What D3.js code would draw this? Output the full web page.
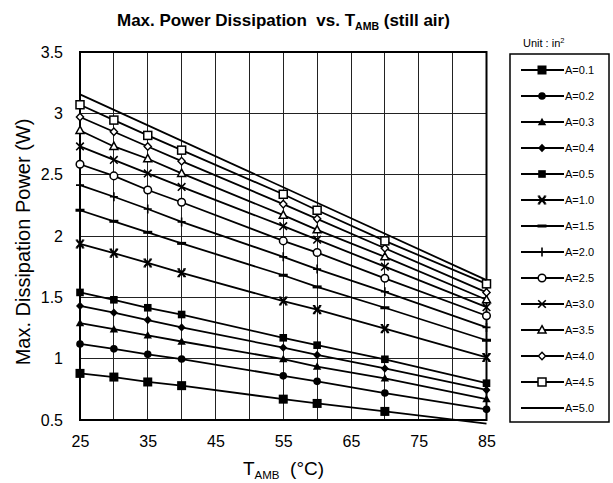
<!DOCTYPE html>
<html><head><meta charset="utf-8">
<script src="https://cdn.jsdelivr.net/npm/d3@7"></script>
<style>
body{margin:0;background:#fff}
text{font-family:Arial,"Liberation Sans",Helvetica,sans-serif;fill:#000}
</style>
</head><body>
<svg id="c" width="613" height="483"></svg>
<script>
// ---- data ----
const temps = [25, 30, 35, 40, 55, 60, 70, 85];
const a01 = [0.88, 0.85, 0.81, 0.78, 0.67, 0.635, 0.57, 0.47];
const a02 = [1.12, 1.08, 1.035, 0.997, 0.86, 0.815, 0.72, 0.587];
const a03 = [1.29, 1.24, 1.19, 1.14, 0.997, 0.935, 0.84, 0.67];
const a04 = [1.43, 1.375, 1.315, 1.255, 1.09, 1.03, 0.92, 0.745];
const a05 = [1.54, 1.48, 1.415, 1.36, 1.17, 1.11, 0.995, 0.80];
const a10 = [1.935, 1.86, 1.78, 1.70, 1.47, 1.40, 1.245, 1.01];
const a15 = [2.21, 2.12, 2.03, 1.94, 1.68, 1.585, 1.415, 1.15];
const a20 = [2.415, 2.32, 2.22, 2.115, 1.83, 1.73, 1.545, 1.255];
const a25 = [2.585, 2.49, 2.375, 2.275, 1.96, 1.865, 1.655, 1.35];
const a30 = [2.73, 2.62, 2.51, 2.40, 2.08, 1.97, 1.75, 1.42];
const a35 = [2.86, 2.73, 2.63, 2.51, 2.17, 2.05, 1.83, 1.48];
const a40 = [2.97, 2.85, 2.73, 2.61, 2.26, 2.14, 1.90, 1.54];
const a45 = [3.07, 2.945, 2.82, 2.70, 2.34, 2.21, 1.96, 1.61];
const a50Temps = [25, 85];
const a50 = [3.155, 1.64];

const seriesLabels = ["A=0.1","A=0.2","A=0.3","A=0.4","A=0.5","A=1.0","A=1.5","A=2.0","A=2.5","A=3.0","A=3.5","A=4.0","A=4.5","A=5.0"];
const seriesValues = [a01,a02,a03,a04,a05,a10,a15,a20,a25,a30,a35,a40,a45,a50];
const seriesMarkers = ["sqBig","cirF","triF","diaF","sqF","xBold","dash","plus","cirO","x","triO","diaO","sqO","none"];

const xTickValues = [25, 35, 45, 55, 65, 75, 85];
const xGridValues = [25, 30, 35, 40, 45, 50, 55, 60, 65, 70, 75, 80, 85];
const yTickValues = [0.5, 1, 1.5, 2, 2.5, 3, 3.5];

// ---- layout ----
const svg = d3.select("#c");
const x = d3.scaleLinear().domain([25, 85]).range([80, 486.5]);
const y = d3.scaleLinear().domain([0.5, 3.5]).range([420, 52]);

// grid
const g = svg.append("g");
g.selectAll(".gx").data(xGridValues).join("line")
  .attr("x1", d => x(d)).attr("x2", d => x(d))
  .attr("y1", y(0.5)).attr("y2", y(3.5))
  .attr("stroke", "#222").attr("stroke-width", 1).attr("shape-rendering","crispEdges");
g.selectAll(".gy").data(yTickValues).join("line")
  .attr("y1", d => y(d)).attr("y2", d => y(d))
  .attr("x1", x(25)).attr("x2", x(85))
  .attr("stroke", "#222").attr("stroke-width", 1).attr("shape-rendering","crispEdges");

// frame
svg.append("rect").attr("x", x(25)).attr("y", y(3.5))
  .attr("width", x(85) - x(25)).attr("height", y(0.5) - y(3.5))
  .attr("fill", "none").attr("stroke", "#000").attr("stroke-width", 2);

// axes (labels only)
const yAxis = d3.axisLeft(y).tickValues(yTickValues).tickSize(0).tickPadding(17)
  .tickFormat(d3.format("~g"));
const ya = svg.append("g").attr("transform", `translate(${x(25)},0)`).call(yAxis);
ya.select(".domain").remove();
ya.selectAll("text").attr("font-size", 16).attr("font-family", "Arial, 'Liberation Sans', sans-serif");

const xAxis = d3.axisBottom(x).tickValues(xTickValues).tickSize(0).tickPadding(16)
  .tickFormat(d3.format("d"));
const xa = svg.append("g").attr("transform", `translate(0,${y(0.5)})`).call(xAxis);
xa.select(".domain").remove();
xa.selectAll("text").attr("font-size", 16).attr("font-family", "Arial, 'Liberation Sans', sans-serif");

// markers
function drawMarker(sel, type, cx, cy) {
  const s = sel;
  const k = "#000";
  switch (type) {
    case "sqBig": s.append("rect").attr("x", cx-4.5).attr("y", cy-4.5).attr("width", 9).attr("height", 9).attr("fill", k); break;
    case "sqF": s.append("rect").attr("x", cx-3.8).attr("y", cy-3.8).attr("width", 7.6).attr("height", 7.6).attr("fill", k); break;
    case "cirF": s.append("circle").attr("cx", cx).attr("cy", cy).attr("r", 3.8).attr("fill", k); break;
    case "triF": s.append("path").attr("d", `M${cx},${cy-4.3}L${cx+4.2},${cy+3.2}L${cx-4.2},${cy+3.2}Z`).attr("fill", k); break;
    case "diaF": s.append("path").attr("d", `M${cx},${cy-4.2}L${cx+4},${cy}L${cx},${cy+4.2}L${cx-4},${cy}Z`).attr("fill", k); break;
    case "xBold":
      s.append("path").attr("d", `M${cx-3.2},${cy-3.6}L${cx+3.2},${cy+3.6}M${cx+3.2},${cy-3.6}L${cx-3.2},${cy+3.6}`)
        .attr("stroke", k).attr("stroke-width", 2.2).attr("fill", "none");
      s.append("path").attr("d", `M${cx-4.3},${cy-3.9}L${cx-1.8},${cy-3.9}M${cx+1.8},${cy-3.9}L${cx+4.3},${cy-3.9}M${cx-4.3},${cy+3.9}L${cx-1.8},${cy+3.9}M${cx+1.8},${cy+3.9}L${cx+4.3},${cy+3.9}`)
        .attr("stroke", k).attr("stroke-width", 1.3).attr("fill", "none");
      break;
    case "dash": s.append("rect").attr("x", cx-4.5).attr("y", cy-1.5).attr("width", 9).attr("height", 3).attr("fill", k); break;
    case "plus": s.append("path").attr("d", `M${cx-4},${cy}L${cx+4},${cy}M${cx},${cy-4.5}L${cx},${cy+4.5}`)
        .attr("stroke", k).attr("stroke-width", 1.6).attr("fill", "none"); break;
    case "cirO": s.append("circle").attr("cx", cx).attr("cy", cy).attr("r", 3.8).attr("fill", "#fff").attr("stroke", k).attr("stroke-width", 1.5); break;
    case "x": s.append("path").attr("d", `M${cx-3.8},${cy-3.8}L${cx+3.8},${cy+3.8}M${cx+3.8},${cy-3.8}L${cx-3.8},${cy+3.8}`)
        .attr("stroke", k).attr("stroke-width", 1.6).attr("fill", "none"); break;
    case "triO": s.append("path").attr("d", `M${cx},${cy-4.3}L${cx+4},${cy+3}L${cx-4},${cy+3}Z`).attr("fill", "#fff").attr("stroke", k).attr("stroke-width", 1.5); break;
    case "diaO": s.append("path").attr("d", `M${cx},${cy-3.8}L${cx+3.6},${cy}L${cx},${cy+3.8}L${cx-3.6},${cy}Z`).attr("fill", "#fff").attr("stroke", k).attr("stroke-width", 1.4); break;
    case "sqO": s.append("rect").attr("x", cx-4).attr("y", cy-4).attr("width", 8).attr("height", 8).attr("fill", "#fff").attr("stroke", k).attr("stroke-width", 1.5); break;
    default: break;
  }
}

// series lines + markers
const line = d3.line().x(d => x(d[0])).y(d => y(d[1]));
seriesValues.forEach((vals, i) => {
  const ts = vals.length === temps.length ? temps : a50Temps;
  const pts = vals.map((v, j) => [ts[j], v]);
  svg.append("path").attr("d", line(pts)).attr("fill", "none")
    .attr("stroke", "#000").attr("stroke-width", 1.8);
  const mg = svg.append("g");
  pts.forEach(p => {
    if (p[1] >= 0.5) drawMarker(mg, seriesMarkers[i], x(p[0]), y(p[1]));
  });
});

// legend
svg.append("rect").attr("x", 510).attr("y", 54).attr("width", 99).attr("height", 368)
  .attr("fill", "#fff").attr("stroke", "#000").attr("stroke-width", 1.5);
const unit = svg.append("text").attr("x", 523).attr("y", 47).attr("font-size", 11);
unit.append("tspan").text("Unit : in");
unit.append("tspan").attr("font-size", 7.5).attr("dy", -4).text("2");

const legY = d3.scaleLinear().domain([0, 13]).range([70, 408]);
seriesLabels.forEach((lab, i) => {
  const ly = legY(i);
  const lg = svg.append("g");
  lg.append("line").attr("x1", 521).attr("x2", 564).attr("y1", ly).attr("y2", ly)
    .attr("stroke", "#000").attr("stroke-width", 1.8);
  drawMarker(lg, seriesMarkers[i], 542, ly);
  lg.append("text").attr("x", 565).attr("y", ly).attr("dy", "0.35em")
    .attr("font-size", 11).text(lab);
});

// title
const title = svg.append("text").attr("x", 117).attr("y", 26)
  .attr("font-size", 17).attr("font-weight", "bold").style("white-space", "pre");
title.append("tspan").text("Max. Power Dissipation  vs. T");
title.append("tspan").attr("font-size", 10.5).attr("dy", 4).text("AMB");
title.append("tspan").attr("dy", -4).text(" (still air)");

// y label
svg.append("text").attr("transform", `translate(30,${(y(0.5)+y(3.5))/2 + 6}) rotate(-90)`)
  .attr("text-anchor", "middle").attr("font-size", 20).text("Max. Dissipation Power (W)");

// x label
const xl = svg.append("text").attr("x", 243).attr("y", 475).attr("font-size", 19).style("white-space", "pre");
xl.append("tspan").text("T");
xl.append("tspan").attr("font-size", 11.5).attr("dy", 4).text("AMB");
xl.append("tspan").attr("dy", -4).text("  (°C)");
</script>
</body></html>
